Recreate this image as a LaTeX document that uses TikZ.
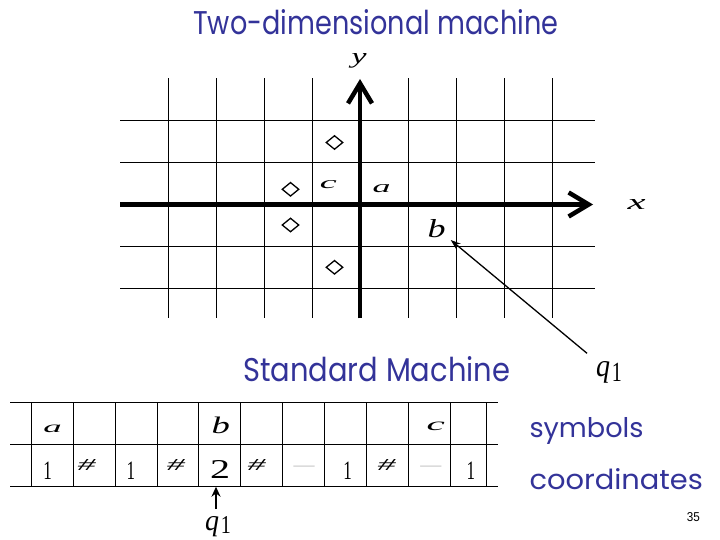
\documentclass[tikz,border=0pt]{standalone}
\usepackage{fontspec}
\usepackage{graphicx}
\usetikzlibrary{arrows.meta,shapes.geometric}
\newfontfamily\comicf{Poppins}
\newfontfamily\tmsf{Liberation Serif}
\newfontfamily\numf{Liberation Sans}
\definecolor{slideblue}{RGB}{51,51,153}
\newcommand\fitg[3]{\resizebox{#1pt}{#2pt}{#3}}
\newcommand\tone{\fitg{8.5}{17.5}{\tmsf 1}}
\newcommand\ttwo{\fitg{20}{18}{\tmsf 2}}
\newcommand\thash{\fitg{18}{11}{\tmsf\itshape\#}}
\begin{document}
\begin{tikzpicture}[x=1pt,y=-1pt,
  gridline/.style={line width=0.9pt},
  axisline/.style={line width=4.5pt,-{Straight Barb[length=20pt,width=24pt]}},
  lbl/.style={inner sep=0pt,anchor=base},
  lblw/.style={inner sep=0pt,anchor=base west},
  cellline/.style={line width=0.9pt},
  ptr/.style={line width=1.3pt,-{Stealth[length=10pt,width=7pt]}},
  ptrb/.style={line width=2.2pt,-{Stealth[length=10pt,width=9pt]}},
  dmd/.style={draw,diamond,line width=1.3pt,inner sep=0pt,minimum width=17pt,minimum height=14pt},
  blank/.style={inner sep=0pt,anchor=center,text=black!22,font=\fontsize{21}{21}\tmsf}
]
\useasboundingbox (0,0) rectangle (720,540);
\fill[white] (0,0) rectangle (720,540);

% title
\node[lbl,text=slideblue] (title) at (375.7,34.3) {\fitg{365}{25}{\comicf Two-dimensional machine}};

% grid
\foreach \x in {168,216,264,312,408,456,504,552}
  \draw[gridline] (\x,78.3) -- (\x,318.3);
\foreach \y in {120.5,162.5,246.5,288.5}
  \draw[gridline] (120,\y) -- (595,\y);
\coordinate (xs) at (120,204.5);
\coordinate (xe) at (593,204.5);
\coordinate (ys) at (360,318.3);
\coordinate (ye) at (360,79);
\draw[axisline] (xs) -- (xe);
\draw[axisline] (ys) -- (ye);
\node[lbl] (ylab) at (359,63.5) {\fitg{15}{10}{\tmsf\itshape y}};
\node[lbl] (xlab) at (636.7,210) {\fitg{18}{10}{\tmsf\itshape x}};

% diamonds
\node[dmd] (d1) at (334.5,142.5) {};
\node[dmd] (d2) at (290.5,189.3) {};
\node[dmd] (d3) at (290.5,225) {};
\node[dmd] (d4) at (334.5,267.3) {};

% grid symbols
\node[lbl] (ga) at (381.7,192.3) {\fitg{18}{8}{\tmsf\itshape a}};
\node[lbl] (gc) at (328.3,189) {\fitg{17}{8}{\tmsf\itshape c}};
\node[lbl] (gb) at (436.7,237.3) {\fitg{18}{18}{\tmsf\itshape b}};

% q1 near grid
\node[lblw] (qa) at (596,376.7) {\fitg{14}{15}{\tmsf\itshape q}\kern1.7pt\raisebox{-4.3pt}{\fitg{10}{18.3}{\tmsf 1}}};
\coordinate (qatail) at (587,353.3);
\coordinate (gbtip) at (450.7,240);
\draw[ptr] (qatail) -- (gbtip);

% Standard Machine
\node[lbl,text=slideblue] (std) at (376.7,381.7) {\fitg{267}{25}{\comicf Standard Machine}};

% tape
\foreach \x in {31.5,73.3,115.2,157,198.8,240.7,282.5,324.3,366.2,408.2,450.5,486.7}
  \draw[cellline] (\x,402.7) -- (\x,486.7);
\foreach \y in {402.7,444.3,486.7}
  \draw[cellline] (10,\y) -- (498,\y);

% tape row 1
\node[lbl] (ta) at (52.5,432) {\fitg{18.4}{7.5}{\tmsf\itshape a}};
\node[lbl] (tb) at (220.8,433) {\fitg{18.3}{16.5}{\tmsf\itshape b}};
\node[lbl] (tc) at (435.8,430) {\fitg{18.3}{8.5}{\tmsf\itshape c}};

% tape row 2
\node[lbl] (c1) at (47.5,479) {\tone};
\node[lbl] (c2) at (86.7,470.5) {\thash};
\node[lbl] (c3) at (130.8,479) {\tone};
\node[lbl] (c4) at (175.8,470.5) {\thash};
\node[lbl] (c5) at (220,478) {\ttwo};
\node[lbl] (c6) at (256.7,470.5) {\thash};
\node[blank] (c7) at (304,469) {—};
\node[lbl] (c8) at (347.5,479) {\tone};
\node[lbl] (c9) at (386.7,470.5) {\thash};
\node[blank] (c10) at (430.8,469) {—};
\node[lbl] (c11) at (470.8,479) {\tone};

% head q1
\node[lblw] (qb) at (205,530) {\fitg{14}{14}{\tmsf\itshape q}\kern1.7pt\raisebox{-3.5pt}{\fitg{10}{17}{\tmsf 1}}};
\coordinate (qbtail) at (216,509);
\coordinate (qbtip) at (216,486.7);
\draw[ptrb] (qbtail) -- (qbtip);

% right labels
\node[lblw,text=slideblue] (sym) at (529.3,437) {\fitg{114}{20}{\comicf symbols}};
\node[lblw,text=slideblue] (coo) at (529.3,489) {\fitg{173.4}{21}{\comicf coordinates}};
\node[lblw] (pg) at (686.7,521) {\fitg{13}{9}{\numf 35}};
\end{tikzpicture}
\end{document}
